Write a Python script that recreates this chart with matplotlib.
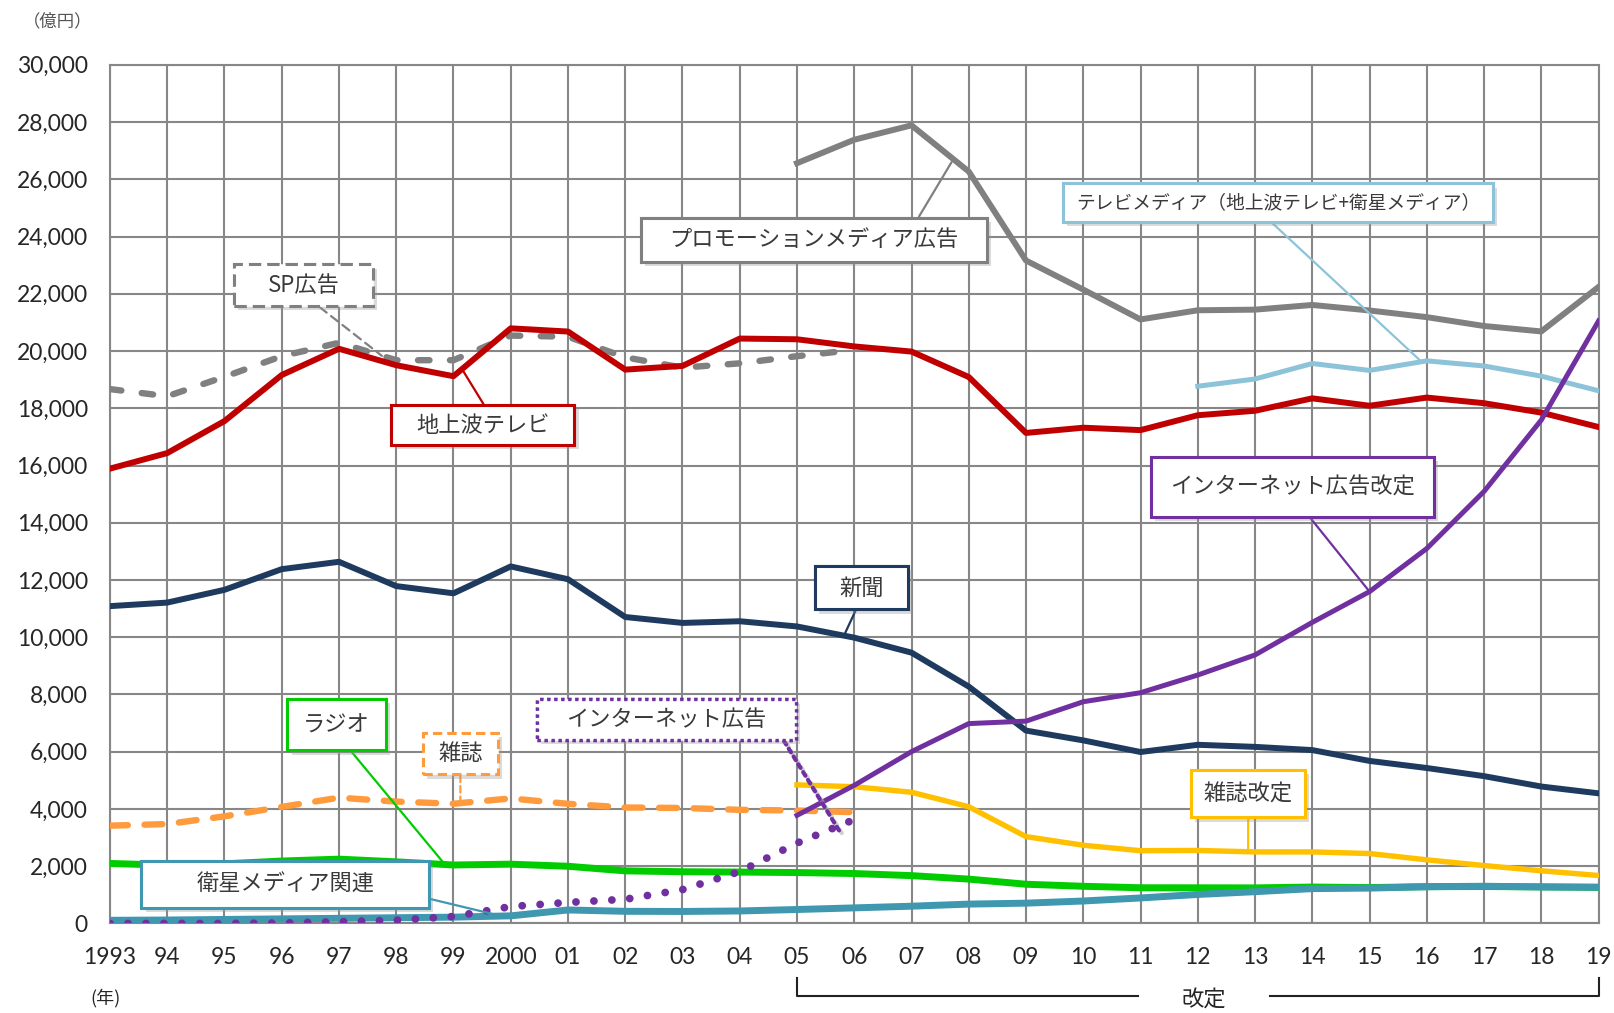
import numpy as np
import matplotlib
matplotlib.use('Agg')
import matplotlib.pyplot as plt
import matplotlib.patheffects as pe
import matplotlib.transforms as mtransforms
from matplotlib.path import Path
from matplotlib.ticker import FuncFormatter

plt.rcParams['font.family'] = ['Noto Sans CJK JP', 'DejaVu Sans']

# 年 (旧推定: 1993-2006, 改定: 2005-2019, テレビメディア: 2012-2019)
years = list(range(1993, 2020))
years_old = list(range(1993, 2007))
years_new = list(range(2005, 2020))
years_tvmedia = list(range(2012, 2020))

year_labels = ['1993', '94', '95', '96', '97', '98', '99', '2000', '01', '02', '03',
               '04', '05', '06', '07', '08', '09', '10', '11', '12', '13', '14',
               '15', '16', '17', '18', '19']

# 広告費 (億円)
terrestrial_tv = [15891, 16435, 17553, 19162, 20079, 19505, 19121, 20793, 20681,
                  19351, 19480, 20436, 20411, 20161, 19981, 19092, 17139, 17321,
                  17237, 17757, 17913, 18347, 18088, 18374, 18178, 17848, 17345]
newspaper = [11087, 11211, 11657, 12379, 12636, 11787, 11535, 12474, 12027, 10707,
             10500, 10559, 10377, 9986, 9462, 8276, 6739, 6396, 5990, 6242, 6170,
             6057, 5679, 5431, 5147, 4784, 4547]
radio = [2097, 2035, 2082, 2181, 2247, 2153, 2043, 2071, 1998, 1837, 1807, 1795,
         1778, 1744, 1671, 1549, 1370, 1299, 1247, 1246, 1243, 1272, 1254, 1285,
         1290, 1278, 1260]
satellite = [110, 120, 140, 160, 180, 200, 220, 266, 471, 424, 419, 436, 487, 544,
             603, 676, 709, 784, 891, 1013, 1110, 1217, 1235, 1283, 1300, 1275, 1267]
sp_ads = [18670, 18420, 19100, 19820, 20290, 19680, 19680, 20540, 20500, 19780,
          19420, 19570, 19820, 20040]
magazine_old = [3417, 3473, 3743, 4073, 4395, 4258, 4183, 4369, 4180, 4051, 4035,
                3970, 3945, 3887]
internet_old = [0, 0, 0, 16, 60, 114, 241, 590, 735, 845, 1183, 1814, 2808, 3630]
promotion = [26563, 27383, 27886, 26272, 23162, 22147, 21105, 21424, 21446, 21610,
             21417, 21184, 20875, 20685, 22239]
magazine_new = [4842, 4777, 4585, 4078, 3034, 2733, 2542, 2551, 2499, 2500, 2443,
                2223, 2023, 1841, 1675]
internet_new = [3777, 4826, 6003, 6983, 7069, 7747, 8062, 8680, 9381, 10519, 11594,
                13100, 15094, 17589, 21048]
tv_media = [18770, 19023, 19564, 19323, 19657, 19478, 19123, 18612]

C_RED = '#C00000'
C_NAVY = '#1F3A5F'
C_GRAY = '#808080'
C_ORANGE = '#FF9B3D'
C_YELLOW = '#FFC000'
C_GREEN = '#00CC00'
C_TEAL = '#3F97B0'
C_PURPLE = '#7030A0'
C_LIGHTBLUE = '#8DC3D8'
C_GRID = '#878787'
C_TEXT = '#3A3A3A'

LABEL_FS = 16


def fixed_box(w_pt, h_pt, fs):
    # 文字の大きさに関係なく固定サイズの矩形を描くボックススタイル
    def style(x0, y0, width, height, mutation_size):
        scale = mutation_size / fs
        cx, cy = x0 + width / 2, y0 + height / 2
        hw, hh = w_pt * scale / 2, h_pt * scale / 2
        verts = [(cx - hw, cy - hh), (cx + hw, cy - hh), (cx + hw, cy + hh),
                 (cx - hw, cy + hh), (cx - hw, cy - hh)]
        return Path(verts, closed=True)
    return style


fig = plt.figure(figsize=(16.15, 10.13), dpi=100)
ax = fig.add_axes([0.0681, 0.0884, 0.9217, 0.8476])

lw_main = 4.3
ax.plot(years_old, sp_ads, color=C_GRAY, lw=4.6, ls=(0, (1.8, 3.2)),
        dash_capstyle='round', zorder=3)
ax.plot(years_new, promotion, color=C_GRAY, lw=lw_main, zorder=3)
ax.plot(years_tvmedia, tv_media, color=C_LIGHTBLUE, lw=3.6, zorder=3)
ax.plot(years, terrestrial_tv, color=C_RED, lw=lw_main, zorder=4)
ax.plot(years, newspaper, color=C_NAVY, lw=lw_main, zorder=4)
ax.plot(years_old, magazine_old, color=C_ORANGE, lw=4.6, ls=(0, (2.8, 2.6)),
        dash_capstyle='round', zorder=4)
ax.plot(years_new, magazine_new, color=C_YELLOW, lw=3.9, zorder=4)
ax.plot(years, radio, color=C_GREEN, lw=5, zorder=4)
ax.plot(years, satellite, color=C_TEAL, lw=5, zorder=5)
ax.plot(years_old, internet_old, color=C_PURPLE, lw=5.6, ls=(0, (0.01, 2.3)),
        dash_capstyle='round', zorder=6)
ax.plot(years_new, internet_new, color=C_PURPLE, lw=3.6, zorder=6)

ax.set_xlim(1993, 2019)
ax.set_ylim(0, 30000)
ax.set_xticks(years)
ax.set_xticklabels(year_labels)
ax.set_yticks(np.arange(0, 30001, 2000))
ax.yaxis.set_major_formatter(FuncFormatter(lambda v, _: f'{int(v):,}'))
ax.tick_params(length=0, labelsize=16.5, colors='#262626')
ax.tick_params(axis='x', pad=17)
ax.tick_params(axis='y', pad=16)
for lab in ax.get_xticklabels() + ax.get_yticklabels():
    lab.set_family(['Lato', 'DejaVu Sans'])
ax.grid(True, color=C_GRID, lw=1.5)
ax.set_axisbelow(True)
for sp in ax.spines.values():
    sp.set_color(C_GRID)
    sp.set_linewidth(1.5)

# 系列ラベル: (テキスト, 箱中心, 指す点, 色, 枠線種, 引出線種, 箱サイズpt, relpos, 文字サイズ)
labels = [
    ('SP広告', (1996.38, 22300), (1997.75, 19830), C_GRAY, (0, (4, 2)), (0, (4, 2.5)), (100, 30), (0.54, 0.0), LABEL_FS),
    ('地上波テレビ', (1999.51, 17410), (1999.17, 19300), C_RED, '-', '-', (132, 29), (0.55, 1.0), LABEL_FS),
    ('プロモーションメディア広告', (2005.29, 23885), (2007.7, 26600), C_GRAY, '-', '-', (249, 32), (0.84, 1.0), LABEL_FS),
    ('テレビメディア（地上波テレビ+衛星メディア）', (2013.40, 25180), (2015.9, 19640), C_LIGHTBLUE, '-', '-', (310, 28), (0.46, 0.0), 13.5),
    ('インターネット広告改定', (2013.65, 15252), (2015.0, 11594), C_PURPLE, '-', '-', (204, 43), (0.51, 0.0), LABEL_FS),
    ('新聞', (2006.13, 11727), (2005.83, 10100), C_NAVY, '-', '-', (67, 31), (0.48, 0.0), LABEL_FS),
    ('ラジオ', (1996.96, 6942), (1998.85, 2060), C_GREEN, '-', '-', (71, 37), (0.53, 0.0), LABEL_FS),
    ('雑誌', (1999.12, 5935), (1999.12, 4210), C_ORANGE, (0, (3, 1.7)), (0, (3, 1.7)), (54, 30), (0.5, 0.0), LABEL_FS),
    ('インターネット広告', (2002.72, 7122), (2005.75, 3200), C_PURPLE, (0, (1, 1.1)), (0, (1, 1.2)), (187, 29), (1.0, 0.8), LABEL_FS),
    ('雑誌改定', (2012.88, 4532), (2012.88, 2505), C_YELLOW, '-', '-', (82, 34), (0.5, 0.0), LABEL_FS),
    ('衛星メディア関連', (1996.06, 1367), (1999.85, 250), C_TEAL, '-', '-', (207, 34), (1.0, 0.45), LABEL_FS),
]

for text, center, target, color, box_ls, line_ls, (bw, bh), relpos, fs in labels:
    dotted = box_ls == (0, (1, 1.1))
    ann = ax.annotate(
        text, xy=target, xytext=center, textcoords='data',
        ha='center', va='center', fontsize=fs, color=C_TEXT, zorder=10,
        bbox=dict(boxstyle=fixed_box(bw, bh, fs), fc='white', ec=color,
                  lw=2.4 if dotted else 2.2, ls=box_ls),
        arrowprops=dict(arrowstyle='-', color=color, lw=3.0 if dotted else 1.6,
                        ls=line_ls, shrinkA=0, shrinkB=0, relpos=relpos),
    )
    ann.get_bbox_patch().set_path_effects([
        pe.withSimplePatchShadow(offset=(3, -3), shadow_rgbFace='#9a9a9a', alpha=0.35),
        pe.Normal(),
    ])
    if dotted:
        ann.arrow_patch.set_path_effects([
            pe.SimpleLineShadow(offset=(2, -2), shadow_color='#b0b0b0', alpha=0.6),
            pe.Normal(),
        ])

# 改定期間を示すかっこ
trans = mtransforms.blended_transform_factory(ax.transData, ax.transAxes)
ax.plot([2005, 2005, 2010.96], [-0.063, -0.085, -0.085], color='#222222', lw=1.5,
        transform=trans, clip_on=False, solid_joinstyle='round')
ax.plot([2013.26, 2019, 2019], [-0.085, -0.085, -0.063], color='#222222', lw=1.5,
        transform=trans, clip_on=False, solid_joinstyle='round')
ax.text(2012.11, -0.089, '改定', transform=trans, ha='center', va='center',
        fontsize=16, color='#262626')
ax.text(1992.93, -0.087, '(年)', transform=trans, ha='center', va='center',
        fontsize=13, color='#262626')
fig.text(0.036, 0.979, '（億円）', ha='center', va='center', fontsize=12.5,
         color='#555555')

fig.savefig('out.png', dpi=100)
